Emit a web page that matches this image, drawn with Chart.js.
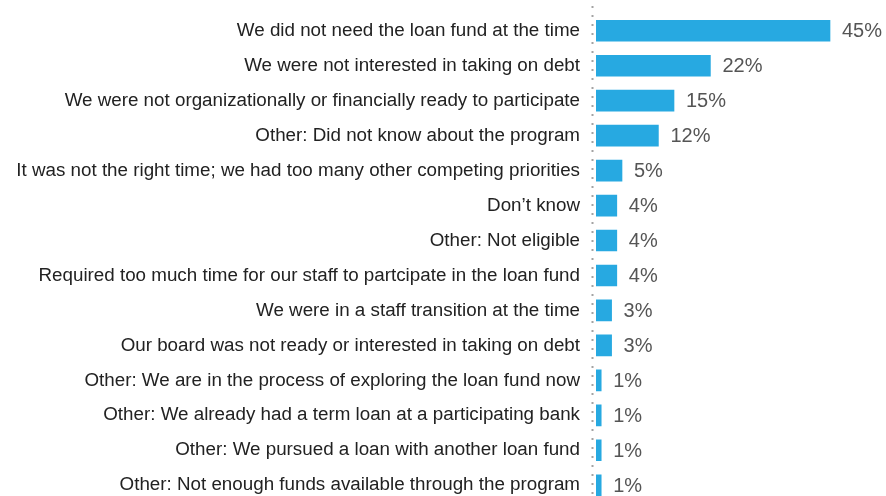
<!DOCTYPE html>
<html><head><meta charset="utf-8">
<script src="https://cdn.jsdelivr.net/npm/chart.js@4/dist/chart.umd.min.js"></script>
<style>html,body{margin:0;padding:0;background:#fff;overflow:hidden;width:886px;height:496px}
canvas{display:block;margin-top:-14px}</style>
</head><body><canvas id="c" width="886" height="544"></canvas>
<script>
const categories = [
 "We did not need the loan fund at the time",
 "We were not interested in taking on debt",
 "We were not organizationally or financially ready to participate",
 "Other: Did not know about the program",
 "It was not the right time; we had too many other competing priorities",
 "Don\u2019t know",
 "Other: Not eligible",
 "Required too much time for our staff to partcipate in the loan fund",
 "We were in a staff transition at the time",
 "Our board was not ready or interested in taking on debt",
 "Other: We are in the process of exploring the loan fund now",
 "Other: We already had a term loan at a participating bank",
 "Other: We pursued a loan with another loan fund",
 "Other: Not enough funds available through the program"
];
const values = [45, 22, 15, 12, 5, 4, 4, 4, 3, 3, 1, 1, 1, 1];
const valueLabels = ["45%","22%","15%","12%","5%","4%","4%","4%","3%","3%","1%","1%","1%","1%"];

const FONT = '"Liberation Sans", Arial, sans-serif';

const axisLine = {
  id: 'axisLine',
  beforeDatasetsDraw(chart) {
    const ctx = chart.ctx;
    const x = chart.chartArea.left - 3.5;
    ctx.save();
    ctx.strokeStyle = '#a3a3a3';
    ctx.lineWidth = 2;
    ctx.setLineDash([2, 7]);
    ctx.beginPath();
    ctx.moveTo(x, 20);
    ctx.lineTo(x, 544);
    ctx.stroke();
    ctx.restore();
  }
};

const valuePlugin = {
  id: 'valueLabels',
  afterDatasetsDraw(chart) {
    const ctx = chart.ctx;
    const meta = chart.getDatasetMeta(0);
    ctx.save();
    ctx.font = '20px ' + FONT;
    ctx.fillStyle = '#555555';
    ctx.textAlign = 'left';
    ctx.textBaseline = 'middle';
    meta.data.forEach((el, i) => {
      ctx.fillText(valueLabels[i], el.x + 12, el.y + 1);
    });
    ctx.restore();
  }
};

new Chart(document.getElementById('c'), {
  type: 'bar',
  data: {
    labels: categories,
    datasets: [{
      data: values,
      backgroundColor: '#27a9e1',
      borderWidth: 0,
      barThickness: 21
    }]
  },
  options: {
    indexAxis: 'y',
    responsive: false,
    animation: false,
    layout: { padding: { top: 4.6, right: 4, bottom: 0, left: 0 } },
    plugins: { legend: { display: false }, tooltip: { enabled: false } },
    scales: {
      x: {
        min: 0, max: 55,
        display: false
      },
      y: {
        grid: { display: false, drawTicks: false },
        border: { display: false },
        ticks: {
          color: '#222222',
          padding: 16,
          font: { family: FONT, size: 18.8 }
        },
        afterFit(scale) { scale.width = 596; }
      }
    }
  },
  plugins: [axisLine, valuePlugin]
});
</script></body></html>
